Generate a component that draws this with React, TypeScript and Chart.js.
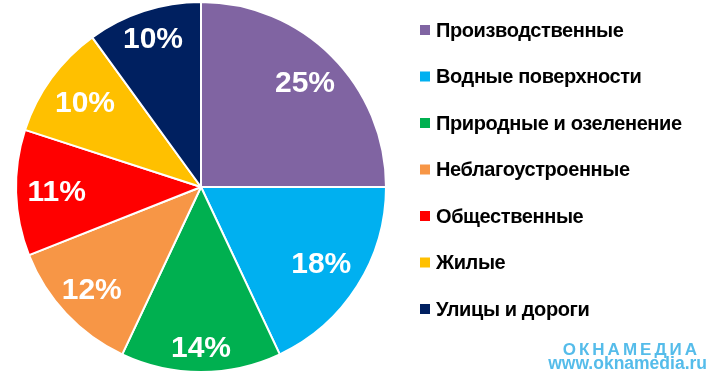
import React, { useEffect, useRef } from "react";
import { Chart, registerables } from "chart.js";

Chart.register(...registerables);

const categories = [
  "Производственные",
  "Водные поверхности",
  "Природные и озеленение",
  "Неблагоустроенные",
  "Общественные",
  "Жилые",
  "Улицы и дороги",
];
const values = [25, 18, 14, 12, 11, 10, 10];
const colors = ["#8064A2", "#00B0F0", "#00B050", "#F79646", "#FF0000", "#FFC000", "#002060"];
// label distance from centre as a fraction of the radius (best-fit placement)
const labelRadius = [0.795, 0.77, 0.87, 0.81, 0.78, 0.775, 0.84];
const watermarkTitle = "ОКНАМЕДИА";
const watermarkUrl = "www.oknamedia.ru";

const FONT = "'Liberation Sans', Arial, sans-serif";

const labelsPlugin = {
  id: "customLabels",
  afterDatasetsDraw(chart: any) {
    const ctx = chart.ctx;
    const meta = chart.getDatasetMeta(0);
    ctx.save();
    ctx.fillStyle = "#ffffff";
    ctx.font = `bold 30px ${FONT}`;
    ctx.textAlign = "center";
    ctx.textBaseline = "middle";
    meta.data.forEach((arc: any, i: number) => {
      const { x, y, startAngle, endAngle, outerRadius } = arc.getProps(
        ["x", "y", "startAngle", "endAngle", "outerRadius"],
        true
      );
      const mid = (startAngle + endAngle) / 2;
      const r = outerRadius * labelRadius[i];
      ctx.fillText(values[i] + "%", x + Math.cos(mid) * r, y + Math.sin(mid) * r + 1);
    });
    ctx.restore();

    // legend
    ctx.save();
    ctx.textAlign = "left";
    ctx.textBaseline = "middle";
    ctx.font = `bold 20px ${FONT}`;
    (ctx as any).letterSpacing = "-0.4px";
    categories.forEach((c, i) => {
      const cy = 30 + i * 46.5;
      ctx.fillStyle = colors[i];
      ctx.fillRect(420, cy - 5, 10, 10);
      ctx.fillStyle = "#000000";
      ctx.fillText(c, 436, cy + 1);
    });
    ctx.restore();

    // watermark
    ctx.save();
    ctx.fillStyle = "#55BCEA";
    ctx.textAlign = "right";
    ctx.textBaseline = "alphabetic";
    ctx.font = `bold 17px ${FONT}`;
    (ctx as any).letterSpacing = "3px";
    ctx.fillText(watermarkTitle, 700, 355);
    (ctx as any).letterSpacing = "0px";
    ctx.font = `bold 17.5px ${FONT}`;
    ctx.fillText(watermarkUrl, 707, 369);
    ctx.restore();
  },
};

export default function App() {
  const ref = useRef<HTMLCanvasElement | null>(null);
  useEffect(() => {
    if (!ref.current) return;
    const chart = new Chart(ref.current, {
      type: "pie",
      data: {
        labels: categories,
        datasets: [
          {
            data: values,
            backgroundColor: colors,
            borderColor: "#ffffff",
            borderWidth: 2,
          },
        ],
      },
      options: {
        animation: false,
        responsive: false,
        maintainAspectRatio: false,
        layout: { padding: { left: 14, top: 1, right: 320, bottom: 2 } },
        plugins: {
          legend: { display: false },
          tooltip: { enabled: false },
        },
      },
      plugins: [labelsPlugin],
    });
    return () => chart.destroy();
  }, []);
  return (
    <div style={{ position: "absolute", left: 0, top: 0, width: 708, height: 375, background: "#fff" }}>
      <canvas ref={ref} width={708} height={375} style={{ width: 708, height: 375, display: "block" }} />
    </div>
  );
}
